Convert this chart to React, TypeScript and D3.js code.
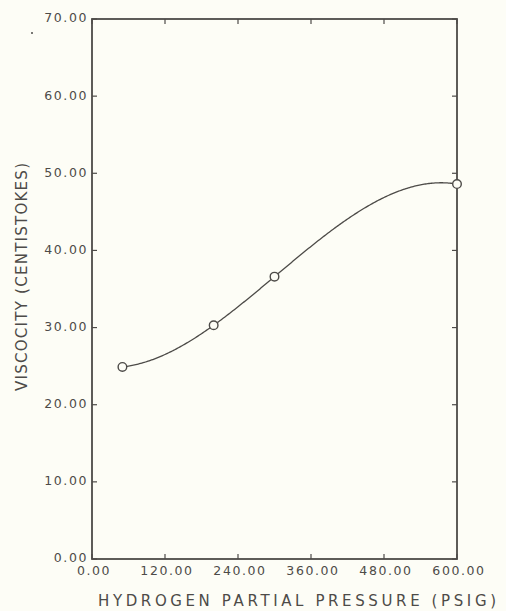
import React from "react";
import * as d3 from "d3";

const pressure = [50, 200, 300, 600];
const viscosity = [24.9, 30.3, 36.6, 48.6];
const xTicks = [0, 120, 240, 360, 480, 600];
const yTicks = [0, 10, 20, 30, 40, 50, 60, 70];
const xTitle = "HYDROGEN PARTIAL PRESSURE (PSIG)";
const yTitle = "VISCOCITY (CENTISTOKES)";

const W = 506;
const H = 611;
const m = { left: 92, right: 457, top: 19, bottom: 559 };
const ink = "#4d4b48";
const font = "'DejaVu Sans', sans-serif";

function interp(xs: number[], ys: number[], x: number) {
  let s = 0;
  for (let i = 0; i < xs.length; i++) {
    let t = ys[i];
    for (let j = 0; j < xs.length; j++) if (j !== i) t *= (x - xs[j]) / (xs[i] - xs[j]);
    s += t;
  }
  return s;
}

export default function App() {
  const x = d3.scaleLinear().domain([0, 600]).range([m.left, m.right]);
  const y = d3.scaleLinear().domain([0, 70]).range([m.bottom, m.top]);
  const samples = d3.range(pressure[0], pressure[pressure.length - 1] + 0.001, 2).map((p) => [p, interp(pressure, viscosity, p)] as [number, number]);
  const line = d3.line<[number, number]>().x((d) => x(d[0])).y((d) => y(d[1])).curve(d3.curveLinear);
  const tk = 5;
  return (
    <svg width={W} height={H} style={{ position: "absolute", left: 0, top: 0, background: "#fdfdf6" }}>
      <rect x={0} y={0} width={W} height={H} fill="#fdfdf6" />
      <circle cx={32} cy={33} r={1} fill={ink} />
      {yTicks.map((t) => (
        <g key={"y" + t}>
          <line x1={m.left} x2={m.left + tk} y1={y(t)} y2={y(t)} stroke={ink} strokeWidth={1.2} />
          <line x1={m.right} x2={m.right - tk} y1={y(t)} y2={y(t)} stroke={ink} strokeWidth={1.2} />
          <text x={88} y={y(t) - 1} dy="0.35em" textAnchor="end" fontFamily={font} fontSize={12.5} letterSpacing={1.6} fill={ink}>
            {t.toFixed(2)}
          </text>
        </g>
      ))}
      {xTicks.map((t) => (
        <g key={"x" + t}>
          <line x1={x(t)} x2={x(t)} y1={m.bottom} y2={m.bottom - tk} stroke={ink} strokeWidth={1.2} />
          <line x1={x(t)} x2={x(t)} y1={m.top} y2={m.top + tk} stroke={ink} strokeWidth={1.2} />
          <text x={x(t) + 2} y={575} textAnchor="middle" fontFamily={font} fontSize={12.5} letterSpacing={1.6} fill={ink}>
            {t.toFixed(2)}
          </text>
        </g>
      ))}
      <rect x={m.left} y={m.top} width={m.right - m.left} height={m.bottom - m.top} fill="none" stroke={ink} strokeWidth={1.8} />
      <path d={line(samples) || ""} fill="none" stroke={ink} strokeWidth={1.3} />
      {pressure.map((p, i) => (
        <circle key={"p" + i} cx={x(p)} cy={y(viscosity[i])} r={4.3} fill="#fdfdf6" stroke={ink} strokeWidth={1.4} />
      ))}
      <text x={297} y={606} textAnchor="middle" fontFamily={font} fontSize={15} textLength={398} lengthAdjust="spacing" fill={ink}>
        {xTitle}
      </text>
      <text transform={`translate(27,277) rotate(-90)`} textAnchor="middle" fontFamily={font} fontSize={15} textLength={228} lengthAdjust="spacing" fill={ink}>
        {yTitle}
      </text>
    </svg>
  );
}
